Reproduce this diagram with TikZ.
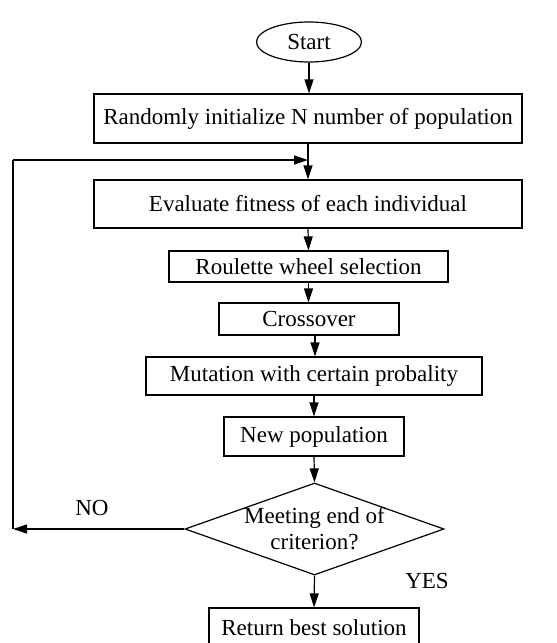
\documentclass[tikz,border=0pt]{standalone}
\usepackage{fontspec}
\setmainfont{Liberation Serif}
\usetikzlibrary{shapes.geometric,arrows.meta}
\begin{document}
\begin{tikzpicture}[x=1pt,y=-1pt,
  every node/.style={font=\fontsize{23}{26}\selectfont},
  procbox/.style={draw,rectangle,line width=1.2pt,inner sep=0pt},
  conn/.style={line width=1.2pt,-{Triangle[length=14pt,width=9pt]}},
  plainline/.style={line width=1.2pt},
  lbl/.style={inner sep=0pt}]
\useasboundingbox (0,0) rectangle (557,643);
\clip (0,0) rectangle (557,643);
\node[draw,ellipse,line width=1.2pt,minimum width=105pt,minimum height=40pt,inner sep=0pt] (start) at (309,42) {Start};
\node[procbox,minimum width=428pt,minimum height=49pt] (init) at (308,118.5) {Randomly initialize N number of population};
\node[procbox,minimum width=428pt,minimum height=48pt] (eval) at (308,204) {Evaluate fitness of each individual};
\node[procbox,minimum width=279pt,minimum height=31pt] (roul) at (308.5,266.5) {Roulette wheel selection};
\node[procbox,minimum width=180pt,minimum height=32pt] (cross) at (309,319) {Crossover};
\node[procbox,minimum width=336pt,minimum height=38pt] (mut) at (314,376) {Mutation with certain probality};
\node[procbox,minimum width=180pt,minimum height=39pt] (newp) at (314,436.5) {New population};
\node[draw,diamond,line width=1.2pt,minimum width=259pt,minimum height=92pt,inner sep=0pt,
  label={[align=center,inner sep=0pt]center:Meeting end of\\criterion?}] (dec) at (314.5,529) {};
\node[procbox,minimum width=210pt,minimum height=40pt] (ret) at (314,628) {Return best solution};
\node[lbl] (no) at (92,508) {NO};
\node[lbl] (yes) at (427,581) {YES};
\coordinate (loopL) at (13,529);
\coordinate (loopT) at (13,160);
\coordinate (join) at (308,160);
\draw[conn] (start.south) -- (start.south |- init.north);
\draw[plainline] (init.south) -- (join);
\draw[conn] (join) -- (eval.north);
\draw[conn] (eval.south) -- (roul.north);
\draw[conn] (roul.south) -- (roul.south |- cross.north);
\draw[conn] (cross.south -| 315,0) -- (mut.north -| 315,0);
\draw[conn] (mut.south) -- (newp.north);
\draw[conn] (newp.south) -- (dec.north);
\draw[conn] (dec.south) -- (ret.north);
\draw[conn] (dec.west) -- (loopL);
\draw[plainline] (loopL) -- (loopT);
\draw[conn] (loopT) -- (join);
\end{tikzpicture}
\end{document}
